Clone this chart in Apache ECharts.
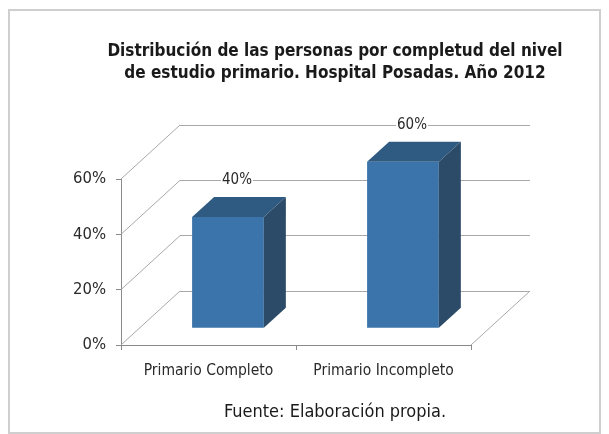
<!DOCTYPE html>
<html>
<head>
<meta charset="utf-8">
<script src="https://cdn.jsdelivr.net/npm/echarts@6/dist/echarts.min.js"></script>
<style>
  html, body { margin: 0; padding: 0; background: #fff; }
  #chart { width: 609px; height: 434px; }
</style>
</head>
<body>
<div id="chart"></div>
<script>
// datos del grafico
var categorias = ['Primario Completo', 'Primario Incompleto'];
var porcentajes = [40, 60];
var ticksY = [0, 20, 40, 60];

// desplazamiento de la pared del fondo (efecto 3D)
var DX = 59, DY = -54;
var FONT = '"DejaVu Sans Condensed", "Liberation Sans", sans-serif';

var chart = echarts.init(document.getElementById('chart'));

var option = {
  backgroundColor: '#fff',
  animation: false,
  title: [
    {
      text: 'Distribución de las personas por completud del nivel\nde estudio primario. Hospital Posadas. Año 2012',
      left: 330,
      top: 36,
      textAlign: 'center',
      textStyle: { fontFamily: FONT, fontSize: 17, fontWeight: 'bold', color: '#1a1a1a', lineHeight: 22 }
    },
    {
      text: 'Fuente: Elaboración propia.',
      left: 330,
      top: 398,
      textAlign: 'center',
      textStyle: { fontFamily: FONT, fontSize: 18, fontWeight: 'normal', color: '#1a1a1a' }
    }
  ],
  graphic: [
    // marco
    { type: 'rect', shape: { x: 9, y: 10, width: 591, height: 423 }, style: { fill: 'none', stroke: '#cfcfcf', lineWidth: 2 }, z: -10 }
  ],
  grid: [
    // plano frontal (ejes)
    { left: 121, top: 179, width: 350, height: 166 },
    // pared del fondo
    { left: 180, top: 125, width: 350, height: 166 }
  ],
  xAxis: [
    {
      type: 'category', gridIndex: 0, data: categorias,
      axisLine: { lineStyle: { color: '#8a8a8a', width: 1 } },
      axisTick: { show: true, length: 5, interval: 0, lineStyle: { color: '#8a8a8a' } },
      axisLabel: { fontFamily: FONT, fontSize: 15.5, color: '#2a2a2a', margin: 18, interval: 0 }
    },
    {
      type: 'category', gridIndex: 1, data: categorias,
      axisLine: { show: false }, axisTick: { show: false }, axisLabel: { show: false }
    }
  ],
  yAxis: [
    {
      type: 'value', gridIndex: 0, min: 0, max: 60, interval: 20,
      axisLine: { show: true, lineStyle: { color: '#8a8a8a', width: 1 } },
      axisTick: { show: true, length: 5, lineStyle: { color: '#8a8a8a' } },
      splitLine: { show: false },
      axisLabel: { fontFamily: FONT, fontSize: 16.5, color: '#2a2a2a', margin: 15, formatter: '{value}%' }
    },
    {
      type: 'value', gridIndex: 1, min: 0, max: 60, interval: 20,
      axisLine: { show: false }, axisTick: { show: false }, axisLabel: { show: false },
      splitLine: { show: true, lineStyle: { color: '#a9a9a9', width: 1 } }
    }
  ],
  series: [
    {
      // lineas diagonales de la pared lateral
      type: 'custom', xAxisIndex: 0, yAxisIndex: 0, z: 1,
      data: ticksY.map(function (v) { return [0, v]; }),
      renderItem: function (params, api) {
        var cs = params.coordSys;
        var y = api.coord([0, api.value(1)])[1];
        return {
          type: 'line',
          shape: { x1: cs.x, y1: y, x2: cs.x + DX, y2: y + DY },
          style: { stroke: '#a9a9a9', lineWidth: 1 }
        };
      }
    },
    {
      // borde derecho del piso
      type: 'custom', xAxisIndex: 0, yAxisIndex: 0, z: 1,
      data: [[1, 0]],
      renderItem: function (params, api) {
        var cs = params.coordSys;
        var y = api.coord([0, 0])[1];
        return {
          type: 'line',
          shape: { x1: cs.x + cs.width, y1: y, x2: cs.x + cs.width + DX, y2: y + DY },
          style: { stroke: '#a9a9a9', lineWidth: 1 }
        };
      }
    },
    {
      // barras 3D
      type: 'custom', xAxisIndex: 0, yAxisIndex: 0, z: 5,
      data: porcentajes.map(function (v, i) { return [i, v]; }),
      renderItem: function (params, api) {
        var base = api.coord([api.value(0), 0]);
        var top = api.coord([api.value(0), api.value(1)]);
        var w = api.size([1, 0])[0] * 0.41;
        var sx = DX * 0.33, sy = DY * 0.32;
        var dx = 22, dy = -20;
        var x0 = base[0] - w / 2 + sx, x1 = x0 + w;
        var yb = base[1] + sy, yt = top[1] + sy;
        return {
          type: 'group',
          children: [
            { type: 'rect', shape: { x: x0, y: yt, width: w, height: yb - yt }, style: { fill: '#3b74aa' } },
            { type: 'polygon', shape: { points: [[x0, yt], [x0 + dx, yt + dy], [x1 + dx, yt + dy], [x1, yt]] }, style: { fill: '#2f5a82' } },
            { type: 'polygon', shape: { points: [[x1, yt], [x1 + dx, yt + dy], [x1 + dx, yb + dy], [x1, yb]] }, style: { fill: '#2c4b68' } },
            {
              type: 'text', x: base[0] + sx + 9, y: yt + dy - 17,
              style: {
                text: api.value(1) + '%', font: '15px ' + FONT, fill: '#2a2a2a',
                align: 'center', verticalAlign: 'middle', backgroundColor: '#fff', padding: [0, 1]
              }
            }
          ]
        };
      }
    }
  ]
};

chart.setOption(option);
</script>
</body>
</html>
